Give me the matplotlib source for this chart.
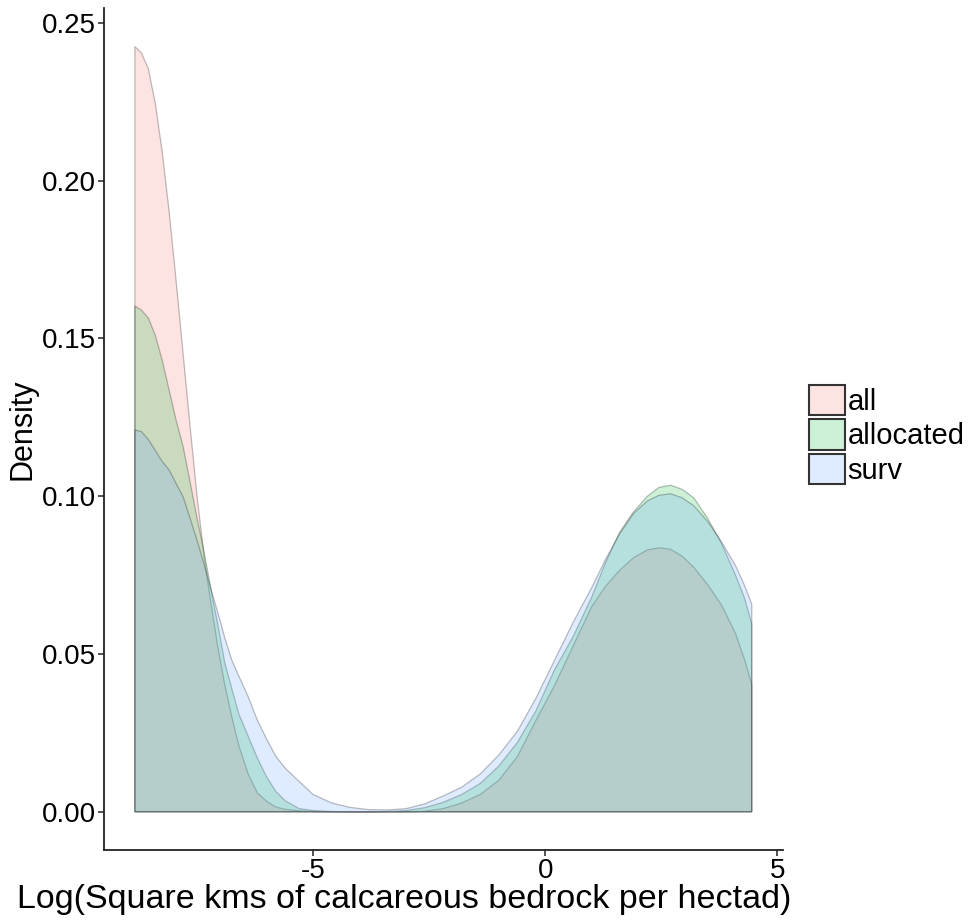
import numpy as np
import matplotlib.pyplot as plt
from matplotlib.colors import to_rgb
from matplotlib.patches import Patch

plt.rcParams['font.family'] = ['Liberation Sans', 'DejaVu Sans']

# density estimates on a common grid of log(square km) values
x_grid = [-8.84, -8.7, -8.55, -8.4, -8.25, -8.1, -7.95, -7.8, -7.65, -7.5, -7.35,
          -7.2, -7.05, -6.9, -6.75, -6.6, -6.4, -6.2, -6.0, -5.8, -5.6, -5.3, -5.0,
          -4.6, -4.2, -3.8, -3.4, -3.0, -2.6, -2.2, -1.8, -1.4, -1.0, -0.6, -0.2,
          0.2, 0.6, 1.0, 1.3, 1.6, 1.9, 2.2, 2.45, 2.7, 2.95, 3.2, 3.5, 3.8, 4.1,
          4.3, 4.45]

dens_all = [0.2425, 0.2405, 0.2355, 0.2245, 0.209, 0.190, 0.168, 0.145, 0.122, 0.100,
            0.081, 0.066, 0.052, 0.040, 0.030, 0.021, 0.012, 0.006, 0.0033, 0.0015,
            0.0008, 0.0003, 0.0001, 0.0, 0.0, 0.0, 0.0, 0.0, 0.0002, 0.001, 0.0028,
            0.0055, 0.010, 0.0175, 0.029, 0.040, 0.0525, 0.065, 0.0715, 0.0765,
            0.0805, 0.083, 0.0837, 0.0832, 0.081, 0.0775, 0.072, 0.0655, 0.0565,
            0.048, 0.0403]

dens_allocated = [0.1603, 0.159, 0.1565, 0.151, 0.143, 0.1335, 0.124, 0.1157, 0.1045,
                  0.093, 0.0825, 0.0705, 0.059, 0.047, 0.039, 0.031, 0.024, 0.017,
                  0.011, 0.0064, 0.0035, 0.001, 0.0004, 0.0001, 0.0, 0.0, 0.0001,
                  0.0004, 0.0013, 0.003, 0.0055, 0.009, 0.0145, 0.022, 0.032, 0.045,
                  0.0555, 0.068, 0.079, 0.0885, 0.095, 0.100, 0.1028, 0.1035, 0.1022,
                  0.0995, 0.093, 0.085, 0.075, 0.0675, 0.0595]

dens_surv = [0.121, 0.1205, 0.118, 0.1145, 0.111, 0.1083, 0.104, 0.0998, 0.093, 0.086,
             0.0785, 0.0705, 0.063, 0.055, 0.048, 0.043, 0.0365, 0.029, 0.023, 0.0175,
             0.0138, 0.0096, 0.0055, 0.0028, 0.0014, 0.0007, 0.0006, 0.001, 0.0025,
             0.005, 0.0078, 0.012, 0.018, 0.0255, 0.036, 0.048, 0.060, 0.071, 0.080,
             0.088, 0.0945, 0.0985, 0.1003, 0.1008, 0.0995, 0.097, 0.092, 0.0855,
             0.078, 0.0715, 0.0658]

groups = ['all', 'allocated', 'surv']
series = [dens_all, dens_allocated, dens_surv]
fills = ['#F8766D', '#00BA38', '#619CFF']

fig = plt.figure(figsize=(9.75, 9.23), dpi=100)
ax = fig.add_axes([0.1067, 0.079, 0.696, 0.912])

x = np.array(x_grid)
for name, dens, col in zip(groups, series, fills):
    y = np.array(dens)
    # closed polygon, baseline and sides included
    px = np.concatenate([[x[0]], x, [x[-1]]])
    py = np.concatenate([[0.0], y, [0.0]])
    ax.fill(px, py, facecolor=col, alpha=0.2, edgecolor='none')
    ax.fill(px, py, facecolor='none', edgecolor=(0, 0, 0, 0.25), linewidth=0.9)

span = x[-1] - x[0]
ax.set_xlim(x[0] - 0.05 * span, x[-1] + 0.05 * span)
ytop = max(max(s) for s in series)
ax.set_ylim(-0.05 * ytop, 1.05 * ytop)

ax.set_xticks([-5, 0, 5])
ax.set_xticklabels(['-5', '0', '5'])
ax.set_yticks([0.0, 0.05, 0.10, 0.15, 0.20, 0.25])
ax.set_yticklabels(['0.00', '0.05', '0.10', '0.15', '0.20', '0.25'])

for side in ['top', 'right']:
    ax.spines[side].set_visible(False)
for side in ['left', 'bottom']:
    ax.spines[side].set_linewidth(1.3)
    ax.spines[side].set_color('#222222')
ax.tick_params(direction='out', length=4, width=1.1, colors='#222222',
               labelsize=20, labelcolor='black')
ax.tick_params(axis='x', pad=2)
ax.tick_params(axis='y', pad=2)

ax.set_xlabel('Log(Square kms of calcareous bedrock per hectad)', fontsize=24.5)
ax.xaxis.set_label_coords(0.442, -0.040)
ax.set_ylabel('Density', fontsize=22, labelpad=3)

handles = [Patch(facecolor=(*to_rgb(c), 0.2), edgecolor='#333333', linewidth=1.5)
           for c in fills]
fig.legend(handles, groups, loc='center left', bbox_to_anchor=(0.815, 0.529),
           frameon=False, fontsize=21, handlelength=1.22, handleheight=1.22,
           handletextpad=0.1, labelspacing=0.12, borderpad=0)

fig.savefig('out.png', dpi=100)
